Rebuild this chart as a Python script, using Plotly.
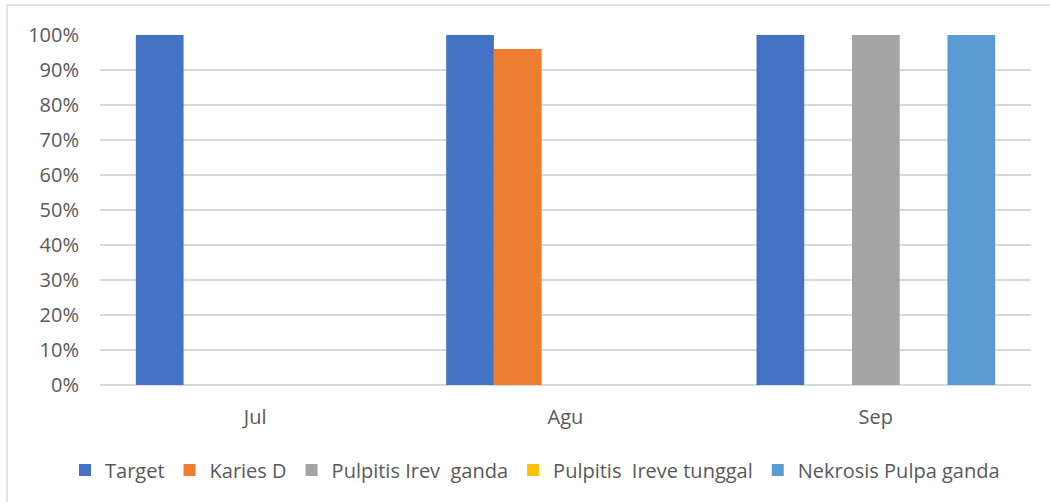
import plotly.graph_objects as go

months = ["Jul", "Agu", "Sep"]
series_names = [
    "Target",
    "Karies D",
    "Pulpitis Irev\u00a0 ganda",
    "Pulpitis\u00a0 Ireve tunggal",
    "Nekrosis Pulpa ganda",
]
target = [1.00, 1.00, 1.00]
karies_d = [0.00, 0.96, 0.00]
pulpitis_irev_ganda = [0.00, 0.00, 1.00]
pulpitis_ireve_tunggal = [0.00, 0.00, 0.00]
nekrosis_pulpa_ganda = [0.00, 0.00, 1.00]
y_ticks = [0, 0.1, 0.2, 0.3, 0.4, 0.5, 0.6, 0.7, 0.8, 0.9, 1.0]

colors = ["#4472C4", "#ED7D31", "#A5A5A5", "#FFC000", "#5B9BD5"]
values = [target, karies_d, pulpitis_irev_ganda, pulpitis_ireve_tunggal, nekrosis_pulpa_ganda]

W, H = 1050, 502
L, R, T, B = 100, 19, 35, 117
pw, ph = W - L - R, H - T - B

fig = go.Figure()
for name, vals, col in zip(series_names, values, colors):
    fig.add_trace(go.Bar(
        x=months, y=vals, name=name,
        marker=dict(color=col, line=dict(width=0)),
    ))

text_color = "#595959"
font_family = "Open Sans"

fig.update_layout(
    width=W, height=H,
    margin=dict(l=L, r=R, t=T, b=B, autoexpand=False),
    paper_bgcolor="white", plot_bgcolor="white",
    barmode="group", bargap=0.231, bargroupgap=0,
    font=dict(family=font_family, size=20, color=text_color),
    showlegend=True,
    legend=dict(
        orientation="h",
        xref="paper", x=(65 - L) / pw, xanchor="left",
        yref="paper", y=(H - B - 470) / ph, yanchor="middle",
        font=dict(family=font_family, size=20, color=text_color),
        itemwidth=30, tracegroupgap=0,
    ),
    xaxis=dict(
        showgrid=False, showline=False, ticks="",
        tickfont=dict(size=20, color=text_color),
        ticklabelstandoff=18,
    ),
    yaxis=dict(
        range=[0, 1.0], tickvals=y_ticks, tickformat=".0%",
        showgrid=True, gridcolor="#D9D9D9", gridwidth=1.5,
        zeroline=True, zerolinecolor="#D9D9D9", zerolinewidth=1.5,
        showline=False, ticks="",
        tickfont=dict(size=20, color=text_color),
        ticklabelstandoff=20,
    ),
    shapes=[dict(
        type="rect", xref="paper", yref="paper",
        x0=(7 - L) / pw, x1=(W + 10 - L) / pw,
        y0=(H - B - (H + 10)) / ph, y1=(H - B - 5) / ph,
        line=dict(color="#D9D9D9", width=1.5), fillcolor="rgba(0,0,0,0)",
        layer="below",
    )],
)

fig.write_html("out.html")
